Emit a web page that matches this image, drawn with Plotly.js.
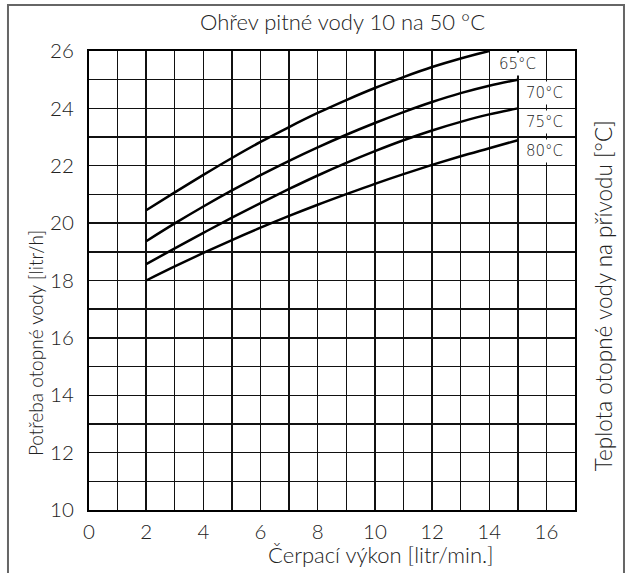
<!DOCTYPE html>
<html>
<head>
<meta charset="utf-8">
<script src="https://cdn.plot.ly/plotly-3.0.1.min.js"></script>
<style>
html,body{margin:0;padding:0;background:#fff;}
#chart{width:632px;height:573px;}
</style>
</head>
<body>
<div id="chart"></div>
<script>
// Data
const flowX65 = [2, 3, 4, 5, 6, 7, 8, 9, 10, 11, 12, 13, 14];
const demand65 = [20.45, 21.07, 21.68, 22.27, 22.83, 23.35, 23.84, 24.29, 24.71, 25.09, 25.44, 25.74, 26.0];
const flowX = [2, 3, 4, 5, 6, 7, 8, 9, 10, 11, 12, 13, 14, 15];
const demand70 = [19.37, 19.99, 20.58, 21.14, 21.67, 22.17, 22.64, 23.08, 23.49, 23.87, 24.22, 24.53, 24.79, 25.0];
const demand75 = [18.57, 19.12, 19.66, 20.19, 20.70, 21.19, 21.66, 22.10, 22.51, 22.89, 23.23, 23.53, 23.79, 24.0];
const demand80 = [18.0, 18.49, 18.96, 19.41, 19.84, 20.25, 20.64, 21.01, 21.37, 21.71, 22.03, 22.33, 22.61, 22.89];
const seriesLabels = ["65°C", "70°C", "75°C", "80°C"];
const labelX = [15.0, 15.92, 15.92, 15.92];
const labelY = [25.55, 24.55, 23.52, 22.53];

const titleText = "Ohřev pitné vody 10 na 50 °C";
const xTitle = "Čerpací výkon [litr/min.]";
const yTitle = "Potřeba otopné vody [litr/h]";
const y2Title = "Teplota otopné vody na přívodu [°C]";

const lineStyle = {color: "#000", width: 2.5, shape: "spline", smoothing: 1};
const traces = [
  {x: flowX65, y: demand65, mode: "lines", line: lineStyle, hoverinfo: "skip"},
  {x: flowX, y: demand70, mode: "lines", line: lineStyle, hoverinfo: "skip"},
  {x: flowX, y: demand75, mode: "lines", line: lineStyle, hoverinfo: "skip"},
  {x: flowX, y: demand80, mode: "lines", line: lineStyle, hoverinfo: "skip"}
];

const fam = "Lato, Liberation Sans, sans-serif";
const titleFont = {family: fam, size: 22, color: "#222", weight: 300};
const leftFont = {family: fam, size: 19, color: "#222", weight: 300};
const rightFont = {family: fam, size: 22.5, color: "#222", weight: 300};
const tickFont = {family: fam, size: 20.5, color: "#222", weight: 300};

const annotations = seriesLabels.map((t, i) => ({
  x: labelX[i], y: labelY[i], xref: "x", yref: "y", text: t, showarrow: false,
  font: {family: "DejaVu Sans, sans-serif", size: 15, color: "#222", weight: 200},
  bgcolor: "#fff", borderpad: 2
}));
annotations.push(
  {x: 0.5206, y: 1.0632, xref: "paper", yref: "paper", text: titleText, showarrow: false, font: titleFont, xanchor: "center", yanchor: "middle"},
  {x: 0.6008, y: -0.098, xref: "paper", yref: "paper", text: xTitle, showarrow: false, font: titleFont, xanchor: "center", yanchor: "middle"},
  {x: -0.111, y: 0.3638, xref: "paper", yref: "paper", text: yTitle, showarrow: false, font: leftFont, textangle: -90, xanchor: "center", yanchor: "middle"},
  {x: 1.0576, y: 0.468, xref: "paper", yref: "paper", text: y2Title, showarrow: false, font: rightFont, textangle: -90, xanchor: "center", yanchor: "middle"}
);

const gridC = "#111";
const layout = {
  width: 632, height: 573,
  margin: {l: 89, r: 57, t: 51, b: 63},
  paper_bgcolor: "#fff", plot_bgcolor: "#fff",
  showlegend: false,
  xaxis: {
    range: [0, 17], dtick: 2, tick0: 0, showgrid: true, gridcolor: gridC, gridwidth: 1.4,
    minor: {dtick: 1, showgrid: true, gridcolor: gridC, gridwidth: 1.4},
    showline: true, mirror: true, linecolor: "#000", linewidth: 2,
    zeroline: false, ticks: "", tickfont: tickFont, ticklabelstandoff: 2, fixedrange: true
  },
  yaxis: {
    range: [10, 26], dtick: 2, tick0: 10, showgrid: true, gridcolor: gridC, gridwidth: 1.4,
    minor: {dtick: 1, showgrid: true, gridcolor: gridC, gridwidth: 1.4},
    showline: true, mirror: true, linecolor: "#000", linewidth: 2,
    zeroline: false, ticks: "", tickfont: tickFont, ticklabelstandoff: 9, fixedrange: true
  },
  annotations: annotations,
  shapes: [
    {type: "rect", xref: "paper", yref: "paper", x0: -0.1667, x1: 1.1008, y0: -0.2, y1: 1.1002,
     line: {color: "#666", width: 2}, fillcolor: "rgba(0,0,0,0)", layer: "below"}
  ]
};

Plotly.newPlot("chart", traces, layout, {staticPlot: true, displayModeBar: false});
</script>
</body>
</html>
